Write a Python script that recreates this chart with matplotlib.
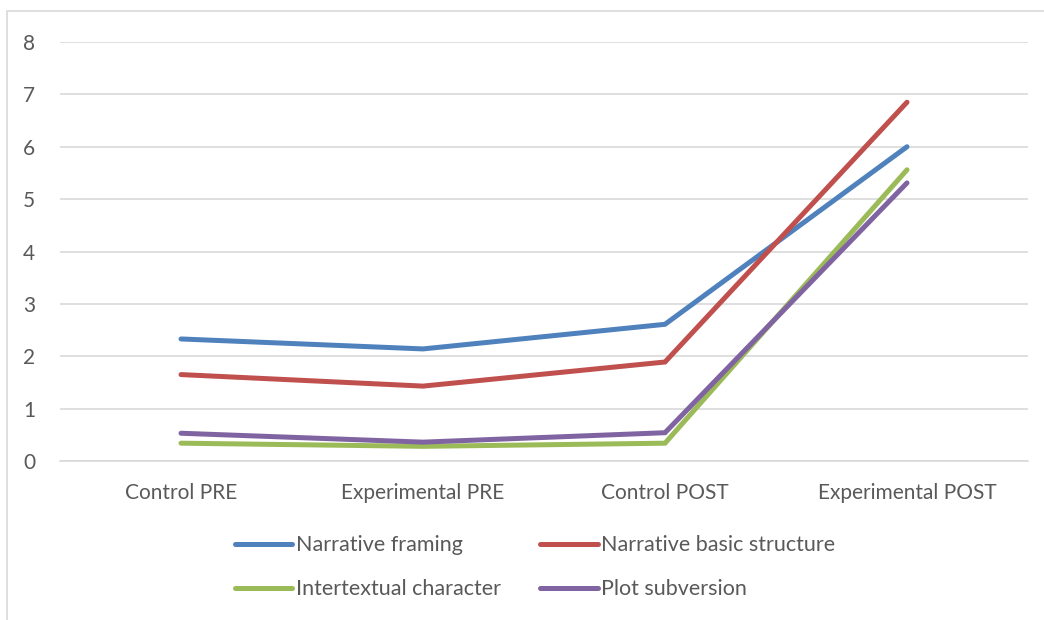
import matplotlib
matplotlib.use('Agg')
import matplotlib.pyplot as plt
from matplotlib.patches import Rectangle

categories = ['Control PRE', 'Experimental PRE', 'Control POST', 'Experimental POST']
narrative_framing = [2.33, 2.14, 2.61, 6.0]
basic_structure = [1.65, 1.43, 1.89, 6.85]
intertextual = [0.34, 0.28, 0.34, 5.56]
plot_subversion = [0.53, 0.36, 0.54, 5.31]

series = [
	('Narrative framing', narrative_framing, '#4F81BD'),
	('Narrative basic structure', basic_structure, '#C0504D'),
	('Intertextual character', intertextual, '#9BBB59'),
	('Plot subversion', plot_subversion, '#8064A2'),
]

plt.rcParams['font.family'] = ['Lato', 'DejaVu Sans']

fig = plt.figure(figsize=(10.44, 6.2), dpi=100)
ax = fig.add_axes([60/1044, 1-461/620, (1028-60)/1044, (461-42)/620])

x = range(len(categories))
handles = []
for name, vals, col in series:
	h, = ax.plot(x, vals, color=col, lw=3.6, solid_capstyle='round',
		solid_joinstyle='miter', label=name)
	handles.append(h)

ax.set_xlim(-0.5, 3.5)
ax.set_ylim(0, 8)
ax.set_yticks(range(0, 9))
ax.set_xticks(list(x))
ax.set_xticklabels(categories)
ax.grid(axis='y', color='#D9D9D9', lw=1.2)
ax.set_axisbelow(True)
for s in ['top', 'right', 'left']:
	ax.spines[s].set_visible(False)
ax.spines['bottom'].set_color('#D9D9D9')
ax.spines['bottom'].set_linewidth(1.2)
ax.tick_params(length=0, labelsize=15, labelcolor='#595959')
ax.tick_params(axis='x', pad=16)
ax.tick_params(axis='y', pad=18)

# legend fills row by row in the reference
order = [0, 2, 1, 3]
fig.legend(handles=[handles[i] for i in order], ncol=2, loc='upper left',
	bbox_to_anchor=(216/1044, 1-516/620), frameon=False,
	fontsize=15.5, labelcolor='#595959', handlelength=2.65,
	handletextpad=0.15, columnspacing=1.85, labelspacing=1.1)

fig.patches.append(Rectangle((7/1044, -0.1), 1.2, 1-11/620+0.1,
	transform=fig.transFigure, fill=False, edgecolor='#D9D9D9', lw=1.2))

fig.savefig('out.png', dpi=100)
